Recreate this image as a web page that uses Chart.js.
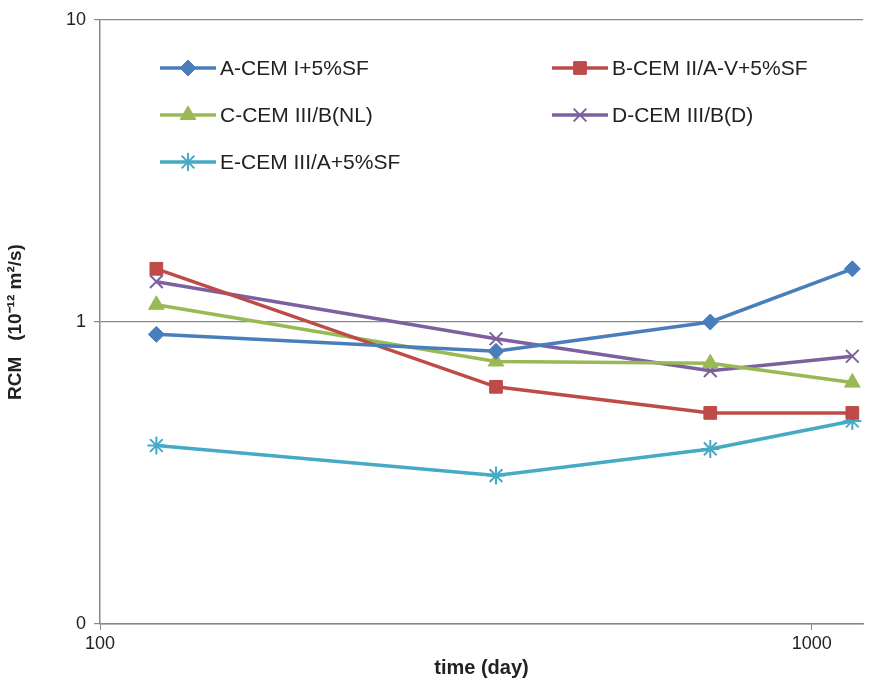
<!DOCTYPE html>
<html><head><meta charset="utf-8">
<script src="https://cdn.jsdelivr.net/npm/chart.js@4"></script>
<style>html,body{margin:0;padding:0;background:#fff}#w{width:874px;height:684px}</style>
</head><body><div id="w"><canvas id="c"></canvas></div>
<script>
const days = [120, 360, 720, 1140];
const seriesA = [0.91, 0.80, 1.0, 1.5];
const seriesB = [1.5, 0.61, 0.50, 0.50];
const seriesC = [1.14, 0.74, 0.73, 0.63];
const seriesD = [1.36, 0.88, 0.69, 0.77];
const seriesE = [0.39, 0.31, 0.38, 0.47];
const names = ['A-CEM I+5%SF','B-CEM II/A-V+5%SF','C-CEM III/B(NL)','D-CEM III/B(D)','E-CEM III/A+5%SF'];
const yTicks = [0.1, 1, 10];
const xTicks = [100, 1000];
const colors = ['#4a7ebb','#be4b48','#98b954','#7d60a0','#46aac5'];
const styles = ['rectRot','rect','triangle','crossRot','star'];
const sizes = [8,9,9,9,9];
const all = [seriesA,seriesB,seriesC,seriesD,seriesE];
const datasets = all.map((s,i)=>({label:names[i],data:s.map((v,j)=>({x:days[j],y:v})),borderColor:colors[i],backgroundColor:colors[i],borderWidth:3.5,pointStyle:styles[i],pointRadius:sizes[i],pointBorderWidth:(styles[i]==='crossRot'||styles[i]==='star')?2:1,tension:0}));
const legendPlugin={id:'lg',afterDraw(ch){const ctx=ch.ctx;const pos=[[160,68],[552,68],[160,115],[552,115],[160,162]];
ch.data.datasets.forEach((d,i)=>{const [x,y]=pos[i];ctx.save();ctx.strokeStyle=d.borderColor;ctx.lineWidth=3.5;ctx.beginPath();ctx.moveTo(x,y);ctx.lineTo(x+56,y);ctx.stroke();
ctx.fillStyle=d.borderColor;ctx.lineWidth=d.pointBorderWidth;Chart.helpers.drawPoint(ctx,{pointStyle:d.pointStyle,radius:d.pointRadius,rotation:0,borderWidth:d.pointBorderWidth},x+28,y);
ctx.fillStyle='#222';ctx.font='21px "Liberation Sans", Arial';ctx.textBaseline='middle';ctx.fillText(d.label,x+60,y+1);ctx.restore();});}};
new Chart(document.getElementById('c'),{type:'line',data:{datasets},plugins:[legendPlugin],
options:{responsive:true,maintainAspectRatio:false,animation:false,layout:{padding:{left:0,right:6,top:20,bottom:0}},
plugins:{legend:{display:false},tooltip:{enabled:false}},
scales:{
x:{type:'logarithmic',min:100,max:1180,afterFit(s){s.height=60;},afterBuildTicks(s){s.ticks=xTicks.map(v=>({value:v}));},
ticks:{color:'#222',font:{size:18,family:'"Liberation Sans", Arial'},callback:v=>String(v),maxRotation:0},
grid:{display:true,drawOnChartArea:false,tickLength:6,color:'#888'},border:{color:'#888',width:1.5},
title:{display:true,text:'time (day)',color:'#222',font:{size:20,weight:'bold',family:'"Liberation Sans", Arial'},padding:{top:0}}},
y:{type:'logarithmic',min:0.1,max:10,afterFit(s){s.width=100;},afterBuildTicks(s){s.ticks=yTicks.map(v=>({value:v}));},
ticks:{color:'#222',font:{size:18,family:'"Liberation Sans", Arial'},callback:v=>v===0.1?'0':String(v),padding:8},
grid:{color:'#888',lineWidth:1.2,tickLength:6},border:{color:'#888',width:1.5},
title:{display:true,text:'RCM   (10⁻¹² m²/s)',color:'#222',font:{size:19,weight:'bold',family:'"Liberation Sans", Arial'}}}}}});
</script></body></html>
